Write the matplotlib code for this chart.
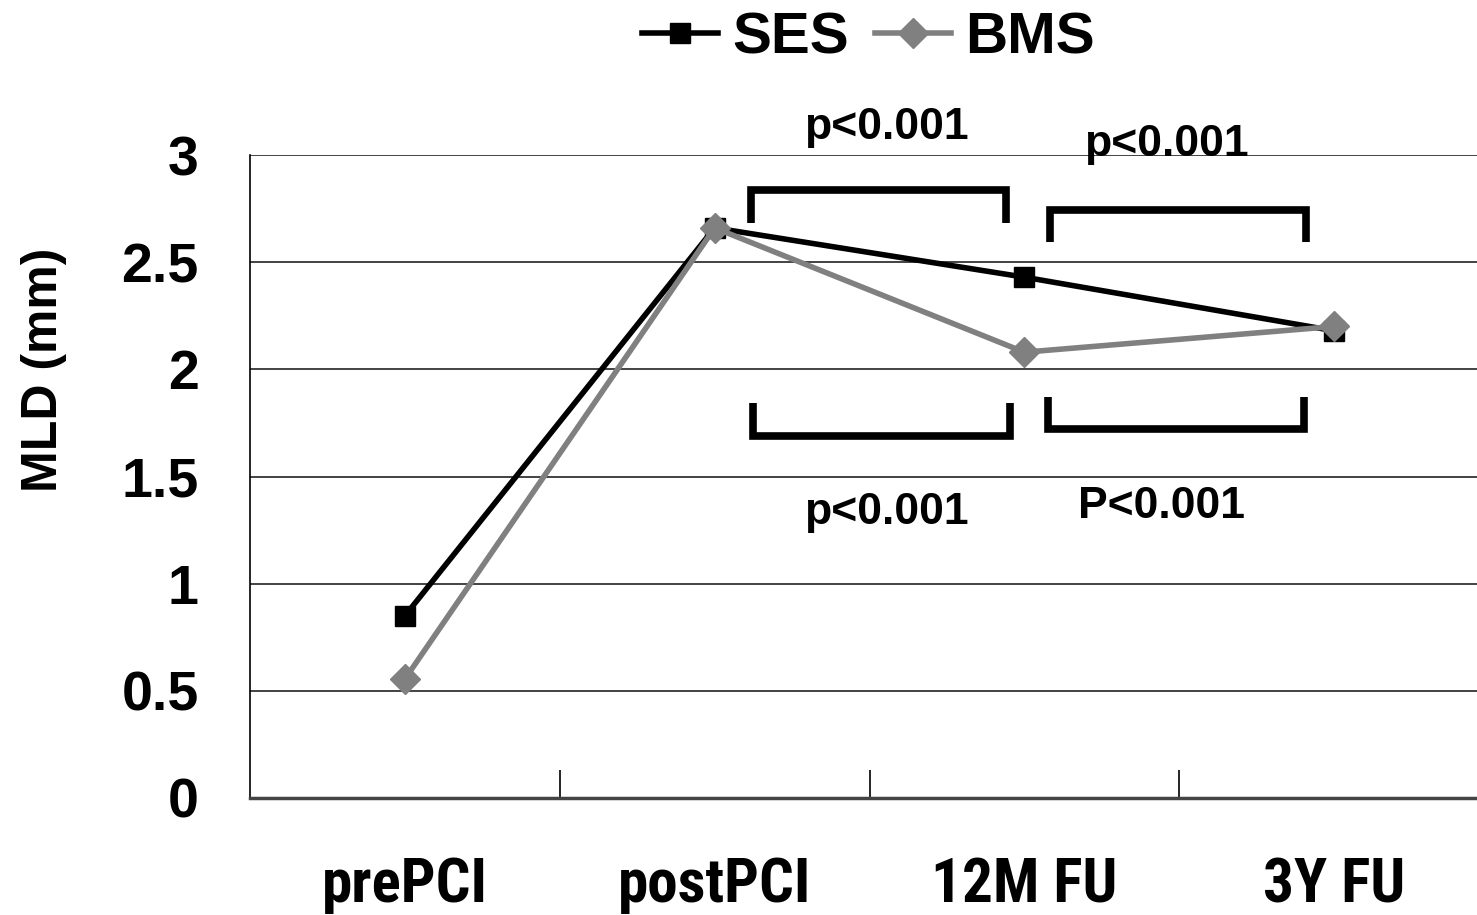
import matplotlib
matplotlib.use("Agg")
import matplotlib.pyplot as plt
from matplotlib import font_manager as fm

categories = ["prePCI", "postPCI", "12M FU", "3Y FU"]
ses = [0.85, 2.66, 2.43, 2.18]
bms = [0.555, 2.66, 2.08, 2.20]
yticks = [0, 0.5, 1, 1.5, 2, 2.5, 3]
ytick_labels = ["0", "0.5", "1", "1.5", "2", "2.5", "3"]
pvals = ["p<0.001", "p<0.001", "p<0.001", "P<0.001"]

names = {f.name for f in fm.fontManager.ttflist}
base = "Liberation Sans" if "Liberation Sans" in names else "DejaVu Sans"
narrow = None
for cand in ["Liberation Sans Narrow", "Roboto Condensed", "DejaVu Sans Condensed",
             "Open Sans Condensed", "Noto Sans Condensed", "Arial Narrow"]:
    if cand in names:
        narrow = cand
        break
if narrow is None:
    for f in fm.fontManager.ttflist:
        if f.stretch in ("condensed", "semi-condensed", 75, 87.5) or "Condensed" in f.fname:
            narrow = f.name
            break
plt.rcParams["font.family"] = [base, "DejaVu Sans"]
plt.rcParams["font.weight"] = "bold"

fig = plt.figure(figsize=(14.77, 9.15), dpi=100)
ax = fig.add_axes([250/1477, 117/915, 1239/1477, 643/915])

x = list(range(len(categories)))
ax.plot(x, ses, color="black", lw=4, marker="s", ms=15, mfc="black", mec="black",
        label="SES", zorder=4)
ax.plot(x, bms, color="#808080", lw=4, marker="D", ms=15, mfc="#808080", mec="#808080",
        label="BMS", zorder=5)

ax.set_xlim(-0.5, 3.5)
ax.set_ylim(0, 3)
ax.set_yticks(yticks)
ax.set_yticklabels(ytick_labels, fontsize=40, fontweight="bold")
ax.tick_params(axis="y", length=0, pad=37)
ax.yaxis.grid(True, color="#222222", lw=1.2)
ax.set_axisbelow(True)

ax.set_xticks(x)
if narrow is not None:
    ax.set_xticklabels(categories, fontsize=44, fontweight="bold", family=[narrow, "DejaVu Sans"])
else:
    ax.set_xticklabels(categories, fontsize=37, fontweight="bold")
ax.tick_params(axis="x", length=0, pad=42)
ax.set_xticks([0.5, 1.5, 2.5], minor=True)
ax.tick_params(axis="x", which="minor", direction="in", length=20, width=1.2, color="black")

for s in ["top", "right"]:
    ax.spines[s].set_visible(False)
ax.spines["left"].set_color("black")
ax.spines["left"].set_linewidth(1.2)
ax.spines["bottom"].set_color("#444444")
ax.spines["bottom"].set_linewidth(2.5)

ax.set_ylabel("MLD (mm)", fontsize=36, fontweight="bold")
ax.yaxis.set_label_coords(-0.148, 0.666)

# significance brackets
blw = 5.5
def bracket(x0, x1, yend, ybar):
    ax.plot([x0, x0, x1, x1], [yend, ybar, ybar, yend], color="black", lw=blw,
            solid_joinstyle="miter", solid_capstyle="butt", clip_on=False, zorder=6)

bracket(1.116, 1.942, 2.683, 2.837)
bracket(2.084, 2.910, 2.594, 2.743)
bracket(1.123, 1.955, 1.843, 1.689)
bracket(2.077, 2.903, 1.871, 1.722)

txt_kw = dict(fontsize=32, fontweight="bold", ha="center", va="center", clip_on=False, zorder=7)
ax.text(1.555, 3.126, pvals[0], **txt_kw)
ax.text(2.458, 3.047, pvals[1], **txt_kw)
ax.text(1.555, 1.334, pvals[2], **txt_kw)
ax.text(2.442, 1.358, pvals[3], **txt_kw)

leg = fig.legend(loc="center", bbox_to_anchor=(0.588, 0.958), ncol=2, frameon=False,
                 fontsize=42, handlelength=1.3, handletextpad=0.25, columnspacing=0.45,
                 numpoints=1, borderaxespad=0, borderpad=0)
for t in leg.get_texts():
    t.set_fontweight("bold")

fig.savefig("out.png", dpi=100)
